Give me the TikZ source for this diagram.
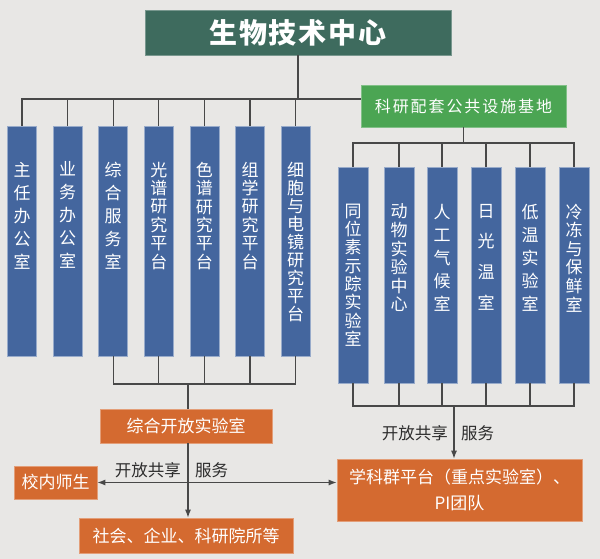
\documentclass[tikz,border=0pt]{standalone}
\usepackage{fontspec}
\setmainfont{Noto Sans CJK SC}
\newfontfamily\titlefont{Noto Sans CJK SC}[LetterSpace=7]
\newfontfamily\basefont{Noto Sans CJK SC}[LetterSpace=12]
\usetikzlibrary{positioning,arrows.meta}
\definecolor{bggray}{RGB}{232,231,229}
\definecolor{titlegreen}{RGB}{62,107,94}
\definecolor{basegreen}{RGB}{75,165,83}
\definecolor{boxblue}{RGB}{68,102,158}
\definecolor{boxorange}{RGB}{212,106,48}
\definecolor{linegray}{RGB}{72,72,72}
\definecolor{textgray}{RGB}{45,45,45}

\begin{document}
\begin{tikzpicture}[x=1pt,y=-1pt,
    line/.style={draw=linegray,line width=1.2pt},
    tip/.style={-{Latex[length=8pt,width=6pt]}},
    blubox/.style={fill=boxblue,draw=boxblue!55!white,line width=0.6pt,minimum width=29pt,inner sep=0pt},
    orgbox/.style={fill=boxorange,draw=boxorange!65!white,line width=0.6pt,text=white,align=center,inner sep=0pt,font=\fontsize{17}{26}\selectfont},
    vtext/.style={text=white,align=center,inner sep=0pt},
    lab/.style={text=textgray,inner sep=0pt,font=\fontsize{16.5}{20}\selectfont}]
    \useasboundingbox[fill=bggray] (0,0) rectangle (600,559);
    \node[fill=titlegreen,draw=titlegreen!70!white,line width=0.6pt,minimum width=306pt,minimum height=45pt,inner sep=0pt,text=white,font=\titlefont\fontsize{28}{30}\selectfont\bfseries] (title) at (298,32.5) {生物技术中心};
    \node[fill=basegreen,draw=basegreen!70!white,line width=0.6pt,minimum width=205pt,minimum height=42pt,inner sep=0pt,text=white,font=\basefont\fontsize{16}{20}\selectfont] (base) at (463.5,106) {科研配套公共设施基地};
    \foreach \i/\x/\s/\t in {1/22/23/{主\\任\\办\\公\\室},2/67.6/23/{业\\务\\办\\公\\室},3/113.2/23/{综\\合\\服\\务\\室},4/158.8/18.4/{光\\谱\\研\\究\\平\\台},5/204.4/18.4/{色\\谱\\研\\究\\平\\台},6/250/18.4/{组\\学\\研\\究\\平\\台},7/295.6/18/{细\\胞\\与\\电\\镜\\研\\究\\平\\台}}{
        \node[blubox,minimum height=230pt] (L\i) at (\x,241) {};
        \node[vtext,font=\fontsize{17}{\s}\selectfont,below=36pt of L\i.north] {\t};
    }
    \foreach \i/\x/\s/\t in {1/353/18.3/{同\\位\\素\\示\\踪\\实\\验\\室},2/399/18.6/{动\\物\\实\\验\\中\\心},3/442/23/{人\\工\\气\\候\\室},4/486/30.7/{日\\光\\温\\室},5/530/23/{低\\温\\实\\验\\室},6/574/18.6/{冷\\冻\\与\\保\\鲜\\室}}{
        \node[blubox,minimum width=30pt,minimum height=216pt] (R\i) at (\x,275) {};
        \node[vtext,font=\fontsize{17}{\s}\selectfont,below=37pt of R\i.north] {\t};
    }
    \node[orgbox,minimum width=172pt,minimum height=34pt] (open) at (186,426) {综合开放实验室};
    \node[orgbox,minimum width=83pt,minimum height=33pt] (xiao) at (55.5,482.5) {校内师生};
    \node[orgbox,minimum width=214pt,minimum height=35pt] (soc) at (186,535.5) {社会、企业、科研院所等};
    \node[orgbox,minimum width=245pt,minimum height=62pt] (xk) at (459.5,490) {学科群平台（重点实验室）、\\PI团队};
    \coordinate (bus) at (0,99);
    \coordinate (rbus) at (0,143);
    \coordinate (lbus) at (188,384);
    \coordinate (rdown) at (454,406);
    \draw[line] (title.south) -- (title.south |- bus);
    \draw[line] (L1.north) |- (bus -| base.west);
    \foreach \i in {2,...,7} \draw[line] (L\i.north) -- (L\i.north |- bus);
    \draw[line] (base.south) -- (base.south |- rbus);
    \draw[line] (R1.north) |- (R6.north |- rbus) -- (R6.north);
    \foreach \i in {2,...,5} \draw[line] (R\i.north) -- (R\i.north |- rbus);
    \draw[line] (L3.south) |- (L7.south |- lbus) -- (L7.south);
    \foreach \i in {4,5,6} \draw[line] (L\i.south) -- (L\i.south |- lbus);
    \draw[line] (lbus) -- (lbus |- open.north);
    \draw[line,tip] (lbus |- open.south) -- (lbus |- soc.north);
    \draw[line] (R1.south) |- (R6.south |- rdown) -- (R6.south);
    \foreach \i in {2,...,5} \draw[line] (R\i.south) -- (R\i.south |- rdown);
    \draw[line,tip] (rdown) -- (rdown |- xk.north);
    \draw[line,{Latex[length=8pt,width=6pt]}-{Latex[length=8pt,width=6pt]}] (xiao.east) -- (xiao.east -| xk.west);
    \node[lab,anchor=east] (share1) at (181,470) {开放共享};
    \node[lab,anchor=west] (serve1) at (195,470) {服务};
    \node[lab,anchor=east] (share2) at (448,433) {开放共享};
    \node[lab,anchor=west] (serve2) at (461,433) {服务};
\end{tikzpicture}
\end{document}
